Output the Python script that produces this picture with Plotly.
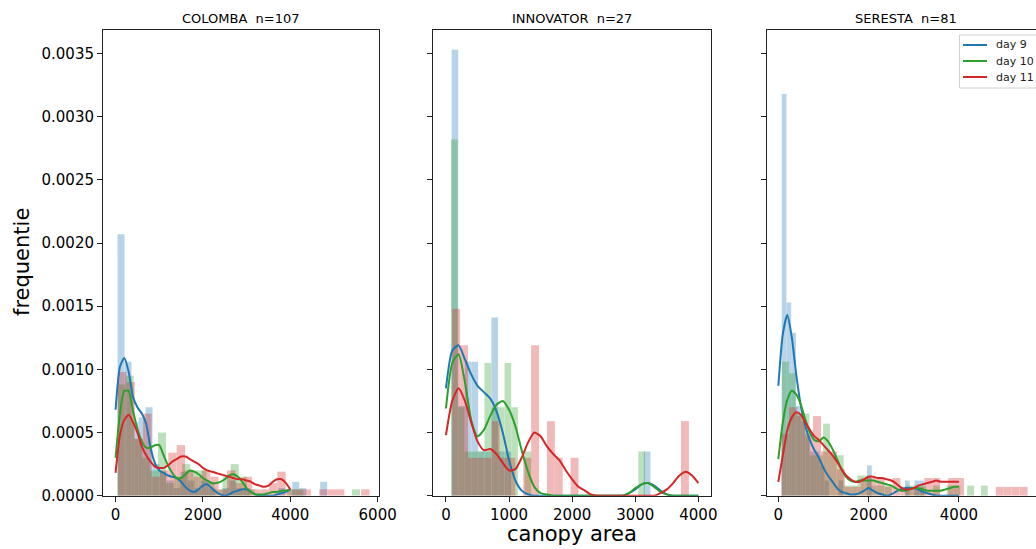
import numpy as np
import plotly.graph_objects as go

# ---------------- data ----------------
day_labels = ["day 9", "day 10", "day 11"]
panel_titles = ["COLOMBA\u00a0 n=107", "INNOVATOR\u00a0 n=27", "SERESTA\u00a0 n=81"]

# histogram bins: first bin edge, bin width, density heights
colomba_d9_start, colomba_d9_width = 45, 160
colomba_d9_hist = [0.00207, 0.00106, 0.00058, 0.00062, 0.00070, 0.00025, 0.00019, 0.00012, 0.00006, 0.00019,
                   0.00012, 0.00006, 0.00012, 0.00006, 0, 0.00006, 0.00012, 0.00006, 0.00006, 0,
                   0, 0, 0, 0.00006, 0, 0.00011, 0.00006, 0, 0, 0.00011]
colomba_d10_start, colomba_d10_width = 45, 185
colomba_d10_hist = [0.00088, 0.00095, 0.00045, 0.00030, 0.00020, 0.00050, 0.00010, 0.00015, 0.00025, 0.00020,
                    0.00020, 0.00010, 0.00005, 0.00015, 0.00025, 0.00015, 0.00005, 0, 0, 0,
                    0, 0.00005, 0.00005, 0, 0, 0, 0, 0, 0, 0.00005]
colomba_d11_start, colomba_d11_width = 55, 192
colomba_d11_hist = [0.00098, 0.00090, 0.00045, 0.00065, 0.00015, 0.00020, 0.00034, 0.00040, 0.00020, 0.00015,
                    0.00020, 0.00015, 0.00005, 0.00020, 0.00010, 0.00015, 0.00005, 0.00005, 0.00010, 0.00019,
                    0.00005, 0.00005, 0.00005, 0, 0.00005, 0.00005, 0.00005, 0, 0, 0.00005]

innovator_d9_start, innovator_d9_width = 90, 105
innovator_d9_hist = [0.00353, 0.00071, 0.00106, 0.00106, 0.00035, 0.00035, 0.00141, 0.00035, 0.00035, 0,
                     0, 0, 0, 0, 0, 0, 0, 0, 0, 0,
                     0, 0, 0, 0, 0, 0, 0, 0, 0, 0.00035]
innovator_d10_start, innovator_d10_width = 80, 106
innovator_d10_hist = [0.00282, 0.00070, 0.00035, 0.00035, 0.00035, 0.00105, 0.00070, 0.00070, 0.00105, 0.00070,
                      0, 0.00035, 0, 0, 0, 0, 0, 0, 0, 0,
                      0, 0, 0, 0, 0, 0, 0, 0, 0.00035, 0]
innovator_d11_start, innovator_d11_width = 100, 125
innovator_d11_hist = [0.00148, 0.00119, 0.00030, 0.00030, 0.00030, 0.00059, 0.00030, 0.00030, 0, 0.00030,
                      0.00119, 0, 0.00059, 0.00030, 0, 0.00030, 0, 0, 0, 0,
                      0, 0, 0, 0, 0, 0, 0, 0, 0, 0.00059]

seresta_d9_start, seresta_d9_width = 75, 105
seresta_d9_hist = [0.00318, 0.00153, 0.00129, 0.00071, 0.00059, 0.00047, 0.00035, 0.00035, 0.00024, 0.00012,
                   0, 0, 0.00012, 0, 0, 0, 0, 0, 0.00024, 0,
                   0, 0, 0, 0, 0, 0, 0.00012, 0, 0.00012, 0.00012]
seresta_d10_start, seresta_d10_width = 80, 152
seresta_d10_hist = [0.00106, 0.00097, 0.00065, 0.00065, 0.00032, 0.00032, 0.00057, 0.00032, 0.00032, 0.00008,
                    0.00008, 0.00016, 0.00016, 0.00008, 0.00008, 0.00008, 0, 0, 0.00008, 0.00008,
                    0.00008, 0, 0.00008, 0, 0.00008, 0.00008, 0, 0.00008, 0, 0.00008]
seresta_d11_start, seresta_d11_width = 65, 176
seresta_d11_hist = [0.00049, 0.00070, 0.00063, 0.00049, 0.00063, 0.00035, 0.00035, 0.00021, 0.00007, 0.00007,
                    0.00014, 0.00014, 0.00014, 0.00007, 0.00014, 0.00007, 0.00007, 0.00007, 0.00014, 0.00014,
                    0, 0.00014, 0.00014, 0, 0, 0, 0, 0.00007, 0.00007, 0.00007, 0.00007]

# kernel density curves, sampled every 100 from 0 to 4000
kde_x = list(range(0, 4001, 100))
colomba_d9_kde = [0.00068, 0.00102, 0.00109, 0.00098, 0.00078, 0.00070, 0.00065, 0.00057, 0.00038, 0.00026,
                  0.00020, 0.00018, 0.00016, 0.00015, 0.00014, 0.00011, 0.00007, 0.00004, 0.00003, 0.00005,
                  0.00008, 0.00009, 0.00006, 0.00003, 0.00001, 0.00000, 0.00001, 0.00003, 0.00004, 0.00005,
                  0.00005, 0.00003, 0.00001, 0.00000, 0.00000, 0.00000, 0.00000, 0.00001, 0.00002, 0.00003,
                  0.00005]
colomba_d10_kde = [0.00030, 0.00065, 0.00083, 0.00083, 0.00067, 0.00053, 0.00043, 0.00038, 0.00038, 0.00040,
                   0.00040, 0.00032, 0.00024, 0.00018, 0.00014, 0.00014, 0.00017, 0.00020, 0.00019, 0.00017,
                   0.00014, 0.00012, 0.00010, 0.00010, 0.00011, 0.00013, 0.00016, 0.00017, 0.00015, 0.00011,
                   0.00006, 0.00003, 0.00001, 0.00001, 0.00001, 0.00002, 0.00003, 0.00003, 0.00004, 0.00004,
                   0.00005]
colomba_d11_kde = [0.00018, 0.00048, 0.00060, 0.00064, 0.00058, 0.00050, 0.00039, 0.00032, 0.00027, 0.00023,
                   0.00022, 0.00022, 0.00024, 0.00027, 0.00029, 0.00031, 0.00031, 0.00029, 0.00027, 0.00025,
                   0.00022, 0.00020, 0.00019, 0.00018, 0.00017, 0.00016, 0.00015, 0.00014, 0.00013, 0.00013,
                   0.00012, 0.00011, 0.00009, 0.00008, 0.00007, 0.00008, 0.00011, 0.00013, 0.00013, 0.00010,
                   0.00005]

innovator_d9_kde = [0.00085, 0.00115, 0.00119, 0.00108, 0.00096, 0.00087, 0.00082, 0.00077, 0.00067, 0.00050,
                    0.00028, 0.00012, 0.00004, 0.00001, 0, 0, 0, 0, 0, 0,
                    0, 0, 0, 0, 0, 0, 0, 0, 0, 0.00002,
                    0.00005, 0.00009, 0.00010, 0.00008, 0.00004, 0.00001, 0, 0, 0, 0,
                    0]
innovator_d10_kde = [0.00069, 0.00105, 0.00112, 0.00090, 0.00060, 0.00047, 0.00052, 0.00063, 0.00072, 0.00075,
                     0.00068, 0.00055, 0.00036, 0.00019, 0.00007, 0.00002, 0.00001, 0, 0, 0,
                     0, 0, 0, 0, 0, 0, 0, 0, 0, 0.00002,
                     0.00006, 0.00009, 0.00010, 0.00007, 0.00003, 0.00001, 0, 0, 0, 0,
                     0]
innovator_d11_kde = [0.00048, 0.00075, 0.00085, 0.00075, 0.00058, 0.00043, 0.00036, 0.00037, 0.00033, 0.00026,
                     0.00020, 0.00021, 0.00030, 0.00042, 0.00050, 0.00047, 0.00039, 0.00033, 0.00028, 0.00020,
                     0.00013, 0.00007, 0.00004, 0.00001, 0, 0, 0, 0, 0, 0,
                     0, 0, 0, 0, 0.00002, 0.00005, 0.00010, 0.00016, 0.00019, 0.00016,
                     0.00010]

seresta_d9_kde = [0.00087, 0.00128, 0.00143, 0.00125, 0.00095, 0.00071, 0.00055, 0.00044, 0.00036, 0.00030,
                  0.00022, 0.00016, 0.00011, 0.00006, 0.00003, 0.00002, 0.00001, 0.00001, 0.00002, 0.00004,
                  0.00006, 0.00004, 0.00002, 0.00001, 0.00000, 0.00001, 0.00003, 0.00005, 0.00006, 0.00006,
                  0.00006, 0.00005, 0.00003, 0.00002, 0.00001, 0, 0, 0, 0, 0,
                  0]
seresta_d10_kde = [0.00029, 0.00058, 0.00076, 0.00083, 0.00080, 0.00072, 0.00060, 0.00050, 0.00044, 0.00043,
                   0.00046, 0.00043, 0.00037, 0.00029, 0.00021, 0.00015, 0.00012, 0.00011, 0.00012, 0.00012,
                   0.00012, 0.00012, 0.00011, 0.00010, 0.00009, 0.00008, 0.00006, 0.00004, 0.00004, 0.00005,
                   0.00006, 0.00006, 0.00005, 0.00004, 0.00004, 0.00004, 0.00004, 0.00005, 0.00006, 0.00007,
                   0.00007]
seresta_d11_kde = [0.00011, 0.00032, 0.00052, 0.00062, 0.00066, 0.00064, 0.00058, 0.00052, 0.00047, 0.00044,
                   0.00040, 0.00036, 0.00032, 0.00027, 0.00021, 0.00016, 0.00013, 0.00011, 0.00011, 0.00013,
                   0.00015, 0.00015, 0.00014, 0.00014, 0.00013, 0.00012, 0.00010, 0.00007, 0.00005, 0.00005,
                   0.00006, 0.00008, 0.00009, 0.00010, 0.00011, 0.00012, 0.00011, 0.00011, 0.00011, 0.00011,
                   0.00011]

# ---------------- styling ----------------
colors = ["#1f77b4", "#2ca02c", "#d62728"]
FONT = "DejaVu Sans, Verdana, sans-serif"

panels = [
    dict(xa="x", ya="y",
         hists=[(colomba_d9_start, colomba_d9_width, colomba_d9_hist),
                (colomba_d10_start, colomba_d10_width, colomba_d10_hist),
                (colomba_d11_start, colomba_d11_width, colomba_d11_hist)],
         kdes=[colomba_d9_kde, colomba_d10_kde, colomba_d11_kde]),
    dict(xa="x2", ya="y2",
         hists=[(innovator_d9_start, innovator_d9_width, innovator_d9_hist),
                (innovator_d10_start, innovator_d10_width, innovator_d10_hist),
                (innovator_d11_start, innovator_d11_width, innovator_d11_hist)],
         kdes=[innovator_d9_kde, innovator_d10_kde, innovator_d11_kde]),
    dict(xa="x3", ya="y3",
         hists=[(seresta_d9_start, seresta_d9_width, seresta_d9_hist),
                (seresta_d10_start, seresta_d10_width, seresta_d10_hist),
                (seresta_d11_start, seresta_d11_width, seresta_d11_hist)],
         kdes=[seresta_d9_kde, seresta_d10_kde, seresta_d11_kde]),
]

fig = go.Figure()
for p in panels:
    for i, (start, width, heights) in enumerate(p["hists"]):
        centers = start + width * (np.arange(len(heights)) + 0.5)
        fig.add_trace(go.Bar(x=centers, y=heights, width=width, xaxis=p["xa"], yaxis=p["ya"],
                             marker=dict(color=colors[i], line=dict(width=0)), opacity=0.32,
                             showlegend=False, hoverinfo="skip"))
for pi, p in enumerate(panels):
    for i, dens in enumerate(p["kdes"]):
        fig.add_trace(go.Scatter(x=kde_x, y=dens, mode="lines", xaxis=p["xa"], yaxis=p["ya"],
                                 line=dict(color=colors[i], width=2, shape="spline", smoothing=0.6),
                                 name=day_labels[i], showlegend=False))

W, H = 1036, 549
common = dict(showline=True, linecolor="#222", linewidth=1, ticks="outside", ticklen=5, tickwidth=1,
              tickcolor="#222", showgrid=False, zeroline=False, automargin=False,
              tickfont=dict(family=FONT, size=15, color="black"))
ydom = [1 - 495.7 / H, 1 - 30 / H]
fig.update_layout(
    width=W, height=H, margin=dict(l=0, r=0, t=0, b=0, pad=0), autosize=False,
    plot_bgcolor="white", paper_bgcolor="white", barmode="overlay", showlegend=False,
    font=dict(family=FONT, color="black"),
    xaxis=dict(common, domain=[103 / W, 379.3 / W], range=[-288, 6038], tick0=0, dtick=2000, anchor="y", mirror=True),
    xaxis2=dict(common, domain=[432.7 / W, 711 / W], range=[-210, 4200], tick0=0, dtick=1000, anchor="y2", mirror=True),
    xaxis3=dict(common, domain=[767.3 / W, 1.0], range=[-244, 5708], tick0=0, dtick=2000, anchor="y3", mirror=True),
    yaxis=dict(common, domain=ydom, range=[0, 0.003686], tick0=0, dtick=0.0005, tickformat=".4f",
               anchor="x", mirror=True),
    yaxis2=dict(common, domain=ydom, range=[0, 0.003686], tick0=0, dtick=0.0005, showticklabels=False,
                anchor="x2", mirror=True),
    yaxis3=dict(common, domain=ydom, range=[0, 0.003686], tick0=0, dtick=0.0005, showticklabels=False,
                anchor="x3", mirror=False),
)

annotations = []
shapes = []
centers_px = [241.2, 571.9, 905.7]
for t, cx in zip(panel_titles, centers_px):
    annotations.append(dict(text=t, x=cx / W, y=1 - 18 / H, xref="paper", yref="paper",
                            xanchor="center", yanchor="middle", showarrow=False,
                            font=dict(family=FONT, size=13, color="black")))
annotations.append(dict(text="frequentie", x=22 / W, y=1 - 262 / H, xref="paper", yref="paper",
                        textangle=-90, xanchor="center", yanchor="middle", showarrow=False,
                        font=dict(family=FONT, size=21, color="black")))
annotations.append(dict(text="canopy area", x=572 / W, y=1 - 534 / H, xref="paper", yref="paper",
                        xanchor="center", yanchor="middle", showarrow=False,
                        font=dict(family=FONT, size=21, color="black")))

# legend box (top-right of the last panel, running off the right edge like the reference)
shapes.append(dict(type="rect", xref="paper", yref="paper", x0=959.5 / W, x1=1050 / W,
                   y0=1 - 88 / H, y1=1 - 35 / H, line=dict(color="#d0d0d0", width=1),
                   fillcolor="rgba(255,255,255,0.85)", layer="above"))
legend_rows_px = [45, 61, 77]
for i, row in enumerate(legend_rows_px):
    shapes.append(dict(type="line", xref="paper", yref="paper", x0=963 / W, x1=987 / W,
                       y0=1 - row / H, y1=1 - row / H, line=dict(color=colors[i], width=2), layer="above"))
    annotations.append(dict(text=day_labels[i], x=994 / W, y=1 - row / H, xref="paper", yref="paper",
                            xanchor="left", yanchor="middle", showarrow=False,
                            font=dict(family=FONT, size=11, color="#222")))
fig.update_layout(annotations=annotations, shapes=shapes)

fig.write_html("out.html")
